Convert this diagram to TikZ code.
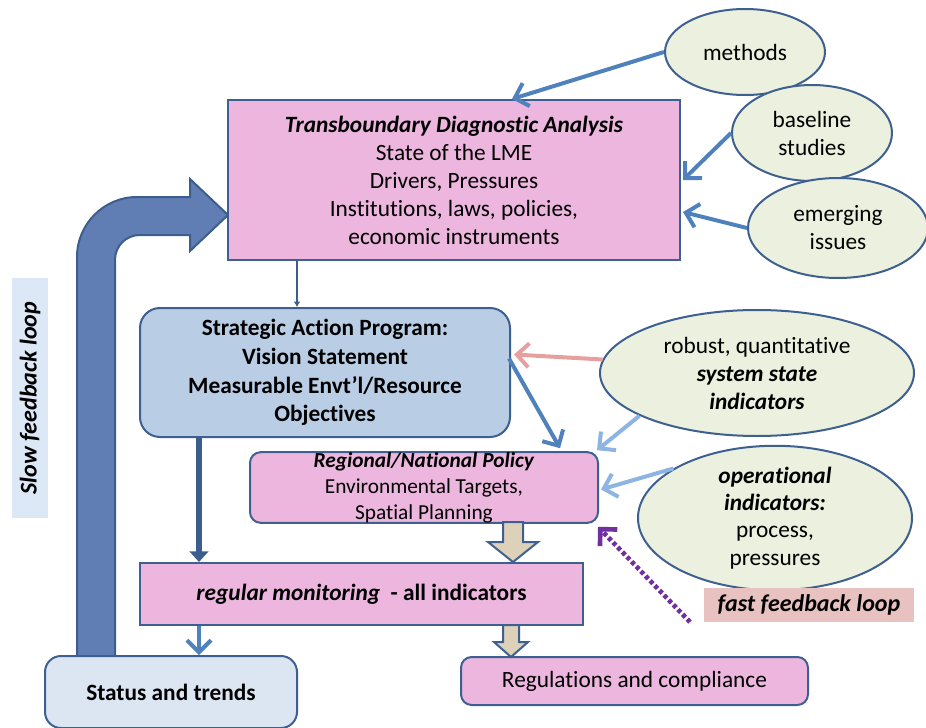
\documentclass[tikz,border=0pt]{standalone}
\usepackage{fontspec}
\setmainfont{Carlito}[Ligatures=NoCommon]
\usetikzlibrary{shapes.geometric,arrows.meta,calc}
\definecolor{boxline}{RGB}{62,96,145}
\definecolor{pinkfill}{RGB}{236,182,222}
\definecolor{sapfill}{RGB}{185,205,229}
\definecolor{statusfill}{RGB}{220,230,242}
\definecolor{ovalfill}{RGB}{235,241,222}
\definecolor{arrowblue}{RGB}{79,129,189}
\definecolor{darkblue}{RGB}{59,94,140}
\definecolor{lightblue}{RGB}{141,180,226}
\definecolor{salmon}{RGB}{230,160,160}
\definecolor{loopviolet}{RGB}{112,48,160}
\definecolor{beige}{RGB}{221,210,185}
\definecolor{bigblue}{RGB}{96,126,180}
\definecolor{slowfill}{RGB}{220,232,245}
\definecolor{fastfill}{RGB}{232,194,192}
\tikzset{
  every node/.style={font=\fontsize{17.5}{21}\selectfont},
  pinkbox/.style={draw=boxline, fill=pinkfill, line width=1.5pt, align=center, inner sep=0pt},
  oval/.style={ellipse, draw=boxline, fill=ovalfill, line width=1.5pt, align=center, inner sep=0pt},
  feed/.style={-{Straight Barb[length=9pt,width=18pt]}, line width=3pt},
  blockarrow/.style={draw=boxline, fill=beige, line width=1.5pt, line join=miter},
  bold/.style={font=\fontsize{17.5}{21.5}\selectfont\bfseries},
  bolditalic/.style={font=\fontsize{18}{21}\selectfont\bfseries\itshape},
}
\begin{document}
\begin{tikzpicture}[x=0.75pt,y=-0.75pt]
\useasboundingbox (0,0) rectangle (926,728);
\draw[draw=darkblue, fill=bigblue, line width=1.5pt] (77,656) -- (77,257) .. controls (77,224) and (104,197) .. (137,197) -- (190,197) -- (190,179) -- (228,215) -- (190,251) -- (190,235) -- (140,235) .. controls (126,235) and (115,246) .. (115,260) -- (115,656) -- cycle;
\node[fill=slowfill, rotate=90, minimum width=180pt, minimum height=27pt, bolditalic] (slow) at (30,398) {Slow feedback loop};
\node[pinkbox, minimum width=339pt, minimum height=120pt] (tda) at (454,180) {\textbf{\textit{Transboundary Diagnostic Analysis}}\\State of the LME\\Drivers, Pressures\\Institutions, laws, policies,\\economic instruments};
\node[oval, minimum width=120pt, minimum height=64.5pt] (methods) at (745,52) {methods};
\node[oval, minimum width=120pt, minimum height=72pt] (baseline) at (812,133) {baseline\\studies};
\node[oval, minimum width=135pt, minimum height=75pt] (emerging) at (838,228) {emerging\\issues};
\node[pinkbox, fill=sapfill, rounded corners=15pt, minimum width=277.5pt, minimum height=96.75pt, bold] (sap) at (325,372.5) {Strategic Action Program:\\Vision Statement\\Measurable Envt'l/Resource\\Objectives};
\node[oval, minimum width=235.5pt, minimum height=94.5pt] (robust) at (757,373) {robust, quantitative\\\textbf{\textit{system state}}\\\textbf{\textit{indicators}}};
\node[pinkbox, rounded corners=8pt, minimum width=261pt, minimum height=51.75pt, font=\fontsize{16}{19.5}\selectfont] (regional) at (424,487.5) {\textbf{\textit{Regional/National Policy}}\\Environmental Targets,\\Spatial Planning};
\node[oval, minimum width=205.5pt, minimum height=93pt, font=\fontsize{17.5}{20.5}\selectfont] (operational) at (775,518) {\textbf{\textit{operational}}\\\textbf{\textit{indicators:}}\\process,\\pressures};
\node[pinkbox, minimum width=332.25pt, minimum height=46.5pt] (monitor) at (361.5,594) {\textbf{\textit{regular monitoring}}\textbf{\ \ - all indicators}};
\node[pinkbox, fill=statusfill, rounded corners=12pt, minimum width=189pt, minimum height=54pt, bold] (status) at (171,692) {Status and trends};
\node[pinkbox, rounded corners=8pt, minimum width=260.25pt, minimum height=36pt] (rules) at (634.5,681) {Regulations and compliance};
\node[fill=fastfill, minimum width=157.5pt, minimum height=25.5pt, bolditalic] (fast) at (809,605) {fast feedback loop};
\coordinate (fastend) at (690,622);
\draw[blockarrow] (503,522) -- (523,522) -- (523,542) -- (538,542) -- (513,562) -- (488,542) -- (503,542) -- cycle;
\draw[blockarrow] (503,625) -- (519,625) -- (519,642) -- (528,642) -- (511,657) -- (494,642) -- (503,642) -- cycle;
\draw[feed, arrowblue](methods.west) -- ($(tda.north)+(58,0)$);
\draw[feed, arrowblue](baseline.west) -- ($(tda.east)+(2,0)$);
\draw[feed, arrowblue](emerging.west) -- ($(tda.east)+(2,32)$);
\draw[darkblue, line width=2pt, -{Latex[length=4pt,width=5pt]}]($(tda.south west)+(70,0)$) -- ($(sap.north west)+(158,0)$);
\draw[feed, salmon](robust.175) -- ($(sap.east)+(3,-18)$);
\draw[feed, arrowblue]($(sap.east)+(-2,-14)$) -- ($(regional.north)+(136,-3)$);
\draw[feed, lightblue](robust.200) -- ($(regional.north east)+(-2,-1)$);
\draw[feed, lightblue](operational.154) -- ($(regional.east)+(2,2)$);
\draw[feed, loopviolet, dotted, line width=3.5pt](fastend) -- ($(regional.south east)+(-1,3)$);
\draw[darkblue, line width=5pt, -{Triangle[length=8pt,width=14pt]}]($(sap.south west)+(60,0)$) -- ($(monitor.north west)+(60,0)$);
\draw[feed, arrowblue]($(monitor.south west)+(60,0)$) -- ($(status.north west)+(155,0)$);
\end{tikzpicture}
\end{document}
